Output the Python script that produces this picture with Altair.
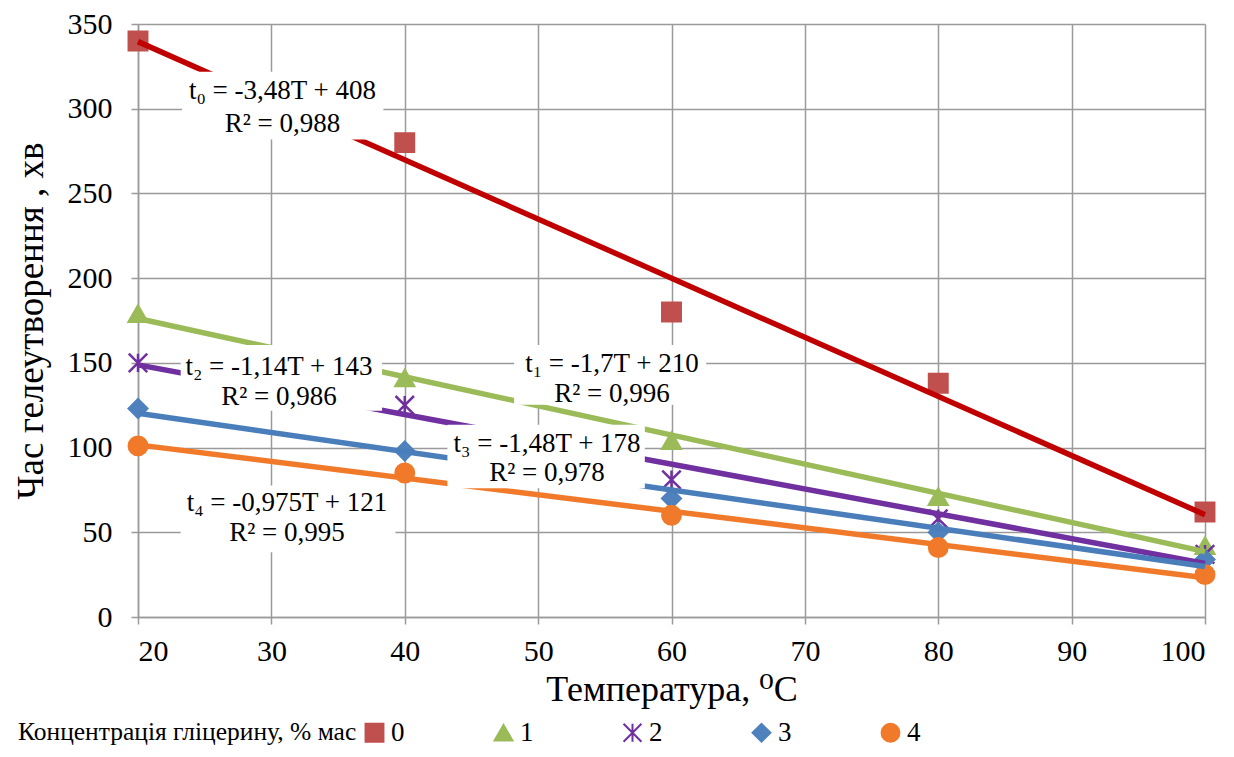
import altair as alt
import pandas as pd

# ---- data ----
temps = [20, 40, 60, 80, 100]
series_names = ["0", "1", "2", "3", "4"]
conc_0 = [340, 280, 180, 138, 62]
conc_1 = [179, 141, 104, 71, 42]
conc_2 = [150, 125, 81, 58, 37]
conc_3 = [123, 98, 70, 50, 34]
conc_4 = [101, 85, 60, 41, 25]

x_ticks = [20, 30, 40, 50, 60, 70, 80, 90, 100]
y_ticks = [0, 50, 100, 150, 200, 250, 300, 350]

# trend-line equation labels as printed on the chart
label_line1 = ["t₀ = -3,48T + 408", "t₂ = -1,14T + 143", "t₁ = -1,7T + 210",
               "t₃ = -1,48T + 178", "t₄ = -0,975T + 121"]
label_line2 = ["R² = 0,988", "R² = 0,986", "R² = 0,996", "R² = 0,978", "R² = 0,995"]

# ---- annotation placement (data units) ----
label_x = [30.83, 30.57, 55.54, 50.67, 31.17]
label_y1 = [310.6, 147.6, 149.4, 102.4, 67.1]
label_y2 = [291.2, 130.0, 131.8, 84.7, 49.4]
box_x1 = [23.3, 23.2, 48.2, 43.2, 23.2]
box_x2 = [38.4, 38.3, 62.6, 58.0, 39.3]
box_y1 = [321.8, 160.6, 160.6, 113.5, 77.6]
box_y2 = [281.8, 121.8, 125.3, 76.0, 38.2]

# ---- styles ----
marker_colors = ["#C0504D", "#9BBB59", "#7030A0", "#4F81BD", "#F07A2A"]
line_colors = ["#C00000", "#9BBB59", "#7030A0", "#4A7EBB", "#F07A2A"]
star = "M-1,-1L1,1M-1,1L1,-1M0,-1L0,1"
shapes = ["square", "triangle-up", star, "diamond", "circle"]
FONT = "'Times New Roman', 'Liberation Serif', 'DejaVu Serif', serif"

rows = []
for name, vals in zip(series_names, [conc_0, conc_1, conc_2, conc_3, conc_4]):
    for t, v in zip(temps, vals):
        rows.append({"T": t, "conc": name, "value": v})
df = pd.DataFrame(rows)

texts = []
for i in range(len(label_line1)):
    texts.append({"x": label_x[i], "y": label_y1[i], "txt": label_line1[i]})
    texts.append({"x": label_x[i], "y": label_y2[i], "txt": label_line2[i]})
tdf = pd.DataFrame(texts)
bdf = pd.DataFrame({"x1": box_x1, "x2": box_x2, "y1": box_y1, "y2": box_y2})

xscale = alt.Scale(domain=[20, 100], nice=False, zero=False)
yscale = alt.Scale(domain=[0, 350], nice=False)

axis_style = dict(
    labelFont=FONT, labelFontSize=30, labelColor="black",
    titleFont=FONT, titleFontWeight="normal", titleColor="black",
    grid=True, gridColor="#9a9a9a", gridWidth=1.5,
    domainColor="#9a9a9a", domainWidth=1.5,
    tickColor="#9a9a9a", tickWidth=1.5, tickSize=7,
)
x_axis = alt.Axis(values=x_ticks, title="Температура, ⁰C", titleFontSize=36,
                  labelPadding=12, titlePadding=6, **axis_style)
y_axis = alt.Axis(values=y_ticks, title="Час гелеутворення , хв", titleFontSize=37,
                  labelPadding=19, titlePadding=17, **axis_style)

legend_title = "Концентрація гліцерину, % мас"
leg = alt.Legend(
    orient="none", legendX=-120, legendY=695, direction="horizontal",
    titleOrient="left", title=legend_title, titleFont=FONT, titleFontSize=25.5,
    titleFontWeight="normal", titleColor="black", titlePadding=4, titleLimit=800,
    labelFont=FONT, labelFontSize=27, labelColor="black", labelOffset=3,
    symbolSize=320, symbolStrokeWidth=2, columnPadding=85,
)

points = alt.Chart(df).mark_point(filled=True, size=340, strokeWidth=2.5, opacity=1).encode(
    x=alt.X("T:Q", scale=xscale, axis=x_axis),
    y=alt.Y("value:Q", scale=yscale, axis=y_axis),
    fill=alt.Fill("conc:N", scale=alt.Scale(domain=series_names, range=marker_colors), legend=leg),
    stroke=alt.Stroke("conc:N", scale=alt.Scale(domain=series_names, range=marker_colors), legend=leg),
    shape=alt.Shape("conc:N", scale=alt.Scale(domain=series_names, range=shapes), legend=leg),
)

trend = alt.Chart(df).transform_regression(
    "T", "value", groupby=["conc"]
).mark_line(strokeWidth=5.5).encode(
    x=alt.X("T:Q", scale=xscale),
    y=alt.Y("value:Q", scale=yscale),
    color=alt.Color("conc:N", scale=alt.Scale(domain=series_names, range=line_colors), legend=None),
)

boxes = alt.Chart(bdf).mark_rect(color="white", opacity=1).encode(
    x=alt.X("x1:Q", scale=xscale), x2="x2:Q",
    y=alt.Y("y1:Q", scale=yscale), y2="y2:Q",
)

labels = alt.Chart(tdf).mark_text(font=FONT, fontSize=27, color="black",
                                  align="center", baseline="middle").encode(
    x=alt.X("x:Q", scale=xscale),
    y=alt.Y("y:Q", scale=yscale),
    text="txt:N",
)

chart = alt.layer(points, trend, boxes, labels).properties(
    width=1067, height=593,
    autosize=alt.AutoSizeParams(type="none"),
    padding={"left": 130, "top": 16, "right": 21, "bottom": 132},
    background="white",
).configure(font=FONT).configure_view(strokeWidth=0)

chart.save("out.html", embed_options={"renderer": "svg", "actions": False})
